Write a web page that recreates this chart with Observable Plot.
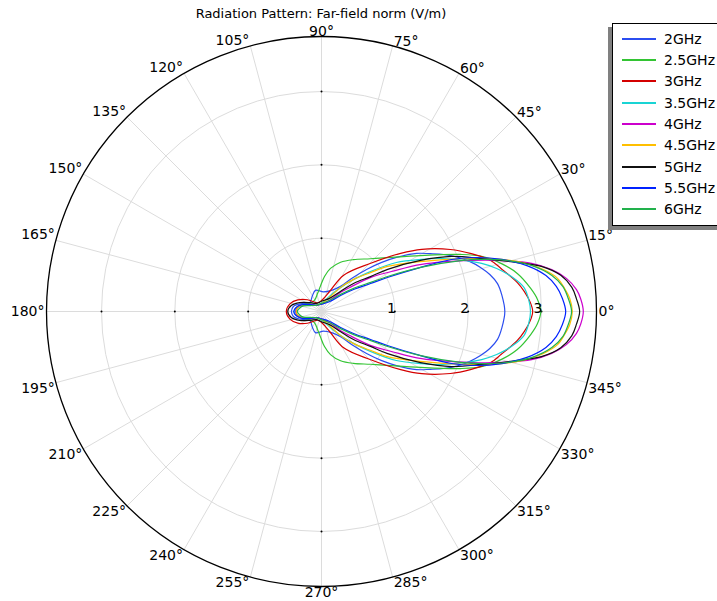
<!DOCTYPE html>
<html><head><meta charset="utf-8">
<script src="https://cdn.jsdelivr.net/npm/d3@7"></script>
<script src="https://cdn.jsdelivr.net/npm/@observablehq/plot@0.6"></script>
<style>
body{margin:0;background:#fff;overflow:hidden;font-family:"DejaVu Sans",sans-serif;}
#wrap{position:relative;width:717px;height:601px;overflow:hidden;}
#title{position:absolute;left:0;top:6px;width:642px;text-align:center;font-size:13px;line-height:15px;color:#000;z-index:2;}
#legend{position:absolute;left:612px;top:23px;width:130px;height:201px;border:1.5px solid #000;background:#fff;box-shadow:-4px 4px 0 #808080;z-index:3;}
.ln{position:absolute;left:9px;width:34px;height:2px;}
.lt{position:absolute;left:51px;font-size:14px;line-height:16px;white-space:nowrap;color:#000;}
</style></head>
<body><div id="wrap"><div id="title">Radiation Pattern: Far-field norm (V/m)</div><div id="legend"></div></div>
<script>
// Frequencies and colours
const freqs = ["2GHz","2.5GHz","3GHz","3.5GHz","4GHz","4.5GHz","5GHz","5.5GHz","6GHz"];
const colors = ["#2b4df0","#33c433","#d40000","#19d4d4","#cc00cc","#ffbf00","#111111","#0022ff","#22b14c"];
// Angular and radial ticks
const angleTicks = [0,15,30,45,60,75,90,105,120,135,150,165,180,195,210,225,240,255,270,285,300,315,330,345];
const radialTicks = [1,2,3];
const rMax = 3.75;
// Far-field norm (V/m) vs angle (deg), upper half 0..180 (pattern symmetric about 0°)
const p2GHz = [[0,2.50],[5.1,2.47],[9.0,2.43],[12.4,2.35],[15.5,2.25],[18.7,2.13],[21.7,2.00],[25.0,1.84],[28.0,1.68],[31.4,1.52],[35.8,1.26],[39.2,1.06],[43.0,0.84],[47.7,0.61],[52.8,0.43],[64.5,0.32],[84.3,0.27],[105.9,0.30],[119.4,0.25],[143.1,0.20],[156.0,0.27],[163.7,0.34],[169.9,0.39],[180,0.41]];
const p2_5GHz = [[0,2.99],[3.2,2.95],[6.3,2.87],[11.0,2.72],[14.9,2.54],[19.0,2.31],[22.3,2.05],[29.5,1.55],[39.3,1.16],[47.2,0.98],[58.4,0.83],[68.8,0.72],[78.2,0.60],[85.1,0.48],[92.2,0.35],[102.5,0.25],[122.5,0.18],[146.3,0.20],[158.7,0.26],[167.7,0.32],[180,0.35]];
const p3GHz = [[0,2.88],[2.5,2.85],[5.6,2.78],[8.4,2.70],[13.4,2.52],[16.8,2.41],[21.1,2.19],[25.7,1.95],[31.8,1.61],[36.3,1.34],[44.4,0.94],[58.6,0.58],[68.2,0.29],[90,0.15],[114,0.13],[128.7,0.17],[140.1,0.25],[154,0.36],[166,0.44],[180,0.48]];
const p3_5GHz = [[0,2.85],[3.3,2.83],[6.8,2.78],[10.1,2.65],[13.8,2.46],[16.7,2.28],[19.8,2.06],[23.8,1.79],[27.5,1.54],[33.2,1.22],[39.2,0.86],[48.2,0.51],[59.5,0.27],[78.7,0.14],[129.8,0.11],[149.7,0.19],[163.3,0.28],[170.9,0.35],[180,0.37]];
const p4GHz = [[0,3.57],[2.7,3.54],[4.9,3.49],[7.7,3.37],[10.3,3.19],[12.9,2.94],[15.8,2.55],[18.8,2.16],[25.2,1.51],[29.7,1.10],[34.8,0.81],[39.8,0.53],[45,0.37],[54,0.19],[90,0.10],[135,0.12],[149.7,0.19],[162.5,0.27],[170.5,0.33],[180,0.35]];
const p4_5GHz = [[0,3.42],[3.0,3.39],[5.4,3.33],[8.0,3.25],[10.7,3.08],[13.8,2.81],[17.3,2.43],[20.7,2.04],[26.8,1.51],[34.3,1.09],[38.5,0.85],[45,0.62],[51.6,0.42],[60.3,0.22],[90,0.11],[135,0.12],[151.6,0.19],[162.5,0.27],[170.5,0.33],[180,0.34]];
const p5GHz = [[0,3.52],[2.9,3.48],[5.5,3.43],[8.6,3.30],[11.6,3.06],[14.0,2.76],[18.3,2.30],[22.9,1.93],[27.3,1.52],[32.5,1.07],[35.5,0.82],[41.2,0.58],[46.5,0.38],[58.4,0.21],[90,0.14],[122,0.13],[143.1,0.20],[157.8,0.32],[168.7,0.42],[180,0.46]];
const p5_5GHz = [[0,3.33],[3.1,3.29],[6.1,3.22],[9.1,3.10],[12.6,2.87],[16.1,2.56],[19.2,2.24],[21.8,1.91],[24.0,1.48],[27.3,1.01],[29.7,0.77],[34.5,0.53],[40.1,0.34],[51.3,0.17],[90,0.10],[129.8,0.11],[149.7,0.19],[162,0.29],[170.9,0.35],[180,0.38]];
const p6GHz = [[0,3.41],[3.0,3.37],[5.9,3.31],[8.9,3.18],[12.4,2.93],[15.4,2.62],[18.0,2.30],[20.1,2.02],[24.0,1.48],[27.9,1.02],[30.6,0.78],[35.7,0.54],[41.8,0.35],[54,0.19],[90,0.11],[129.8,0.11],[151.4,0.17],[163,0.26],[171,0.30],[180,0.33]];
const patterns = [p2GHz,p2_5GHz,p3GHz,p3_5GHz,p4GHz,p4_5GHz,p5GHz,p5_5GHz,p6GHz];

const rad = a => a * Math.PI / 180;
const rows = [];
patterns.forEach((top, i) => {
  const full = [...top, ...top.slice(1, -1).reverse().map(([a, r]) => [360 - a, r])];
  for (const [a, r] of full) rows.push({freq: freqs[i], x: r * Math.cos(rad(a)), y: r * Math.sin(rad(a))});
});
const axisDots = radialTicks.flatMap(v => [[v,0],[-v,0],[0,v],[0,-v]]);

const px = a => rMax * Math.cos(rad(a));
const py = a => rMax * Math.sin(rad(a));
const lab = (angles, textAnchor, lineAnchor, dx, dy) => Plot.text(angles, {
  x: px, y: py, text: a => `${a}°`, textAnchor, lineAnchor, dx, dy, fontSize: 14, fill: "#000"
});

const chart = Plot.plot({
  width: 717, height: 601,
  marginLeft: 46, marginRight: 121, marginTop: 36, marginBottom: 15,
  x: {domain: [-rMax, rMax], axis: null},
  y: {domain: [-rMax, rMax], axis: null},
  r: {type: "linear", domain: [0, rMax], range: [0, 275]},
  color: {domain: freqs, range: colors},
  style: {fontFamily: "'DejaVu Sans', sans-serif", background: "transparent", overflow: "visible"},
  marks: [
    Plot.link(angleTicks, {x1: () => 0, y1: () => 0, x2: px, y2: py, stroke: "#dcdcdc", strokeWidth: 1}),
    Plot.dot(radialTicks, {x: () => 0, y: () => 0, r: d => d, stroke: "#dcdcdc", strokeWidth: 1, fill: "none"}),
    Plot.dot([rMax], {x: () => 0, y: () => 0, r: d => d, stroke: "#000", strokeWidth: 1.3, fill: "none"}),
    Plot.dot(axisDots, {x: d => d[0], y: d => d[1], r: 1, fill: "#000", stroke: "none"}),
    Plot.line(rows, {x: "x", y: "y", z: "freq", stroke: "freq", strokeWidth: 1.2, curve: "catmull-rom-closed"}),
    Plot.text(radialTicks, {x: d => d, y: () => 0, text: d => String(d), textAnchor: "end", lineAnchor: "bottom", dx: 1, dy: 1, fontSize: 14, fill: "#000"}),
    lab(angleTicks.filter(a => a > 0 && a < 90), "start", "bottom", 1, 0),
    lab([90], "middle", "bottom", 0, -1),
    lab(angleTicks.filter(a => a > 90 && a < 180), "end", "bottom", -1, -1),
    lab([180], "end", "middle", -2, 0),
    lab(angleTicks.filter(a => a > 180 && a < 270), "end", "top", -1, 0),
    lab([270], "middle", "top", 0, 1),
    lab(angleTicks.filter(a => a > 270), "start", "top", 1, 0),
    lab([0], "start", "middle", 2, 0)
  ]
});
const wrap = document.getElementById("wrap");
wrap.insertBefore(chart, wrap.firstChild);
chart.style.position = "absolute"; chart.style.left = "0"; chart.style.top = "0";

const legend = document.getElementById("legend");
freqs.forEach((f, i) => {
  const cy = Math.round(14.8 + 21.3 * i);
  const l = document.createElement("div"); l.className = "ln";
  l.style.top = (cy - 1) + "px"; l.style.background = colors[i];
  const t = document.createElement("div"); t.className = "lt";
  t.style.top = (cy - 8) + "px"; t.textContent = f;
  legend.appendChild(l); legend.appendChild(t);
});
</script></body></html>
